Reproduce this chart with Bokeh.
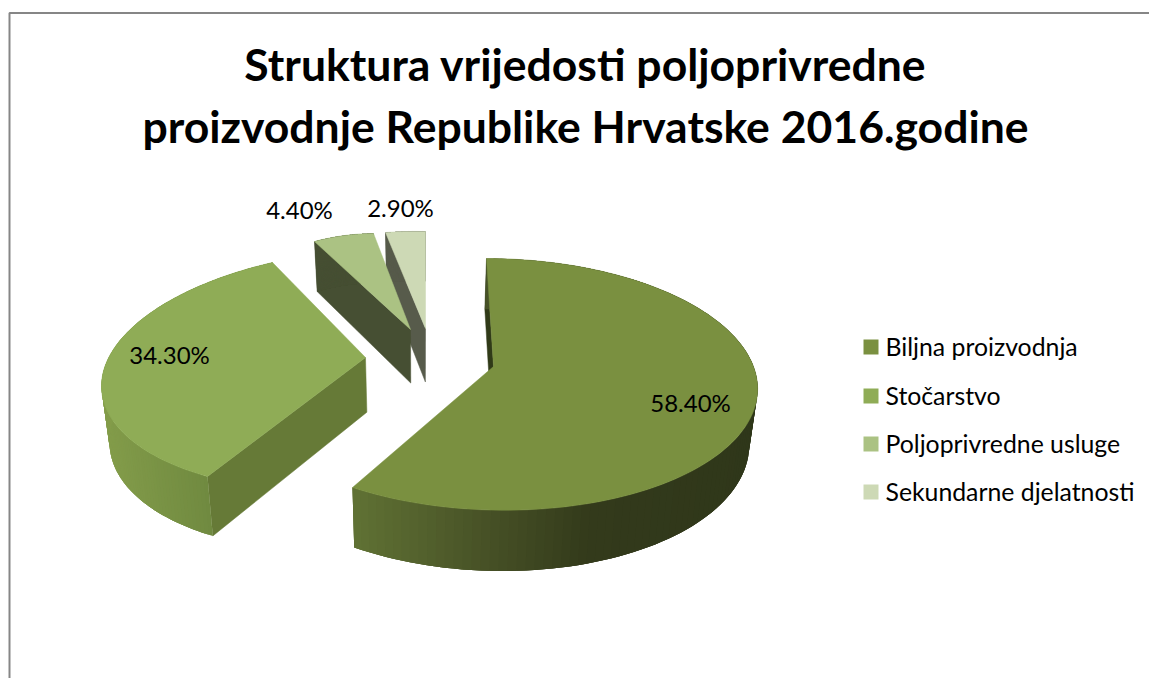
import numpy as np
from bokeh.plotting import figure
from bokeh.embed import file_html
from bokeh.resources import INLINE
from bokeh.core.properties import value

# ---------- data ----------
title_lines = ["Struktura vrijedosti poljoprivredne",
               "proizvodnje Republike Hrvatske 2016.godine"]
categories = ["Biljna proizvodnja", "Stočarstvo", "Poljoprivredne usluge", "Sekundarne djelatnosti"]
shares = [58.4, 34.3, 4.4, 2.9]

# ---------- style / layout ----------
FONT = "Lato"
W, H = 1149, 678
X0, Y0 = 0, 0                     # canvas coordinates equal window pixels
face_cols = ["#7a9040", "#8fac56", "#abc283", "#cdd9b5"]
swatch_cols = ["#7a9040", "#8fac56", "#abc283", "#cdd9b5"]
side_cols = ["#303a18", "#667a37", "#464f33", "#575b4b"]
# rim colour stops (screen x, rgb)
rim_stops = [
    [(352, (96, 114, 52)), (470, (74, 85, 40)), (590, (51, 58, 27)), (760, (47, 55, 26))],
    [(102, (131, 156, 74)), (207, (112, 138, 64))],
    [(0, (70, 79, 51)), (2000, (70, 79, 51))],
    [(0, (87, 91, 75)), (2000, (87, 91, 75))],
]
# perspective frames: apex, then rim anchor points (fraction of slice sweep -> screen point)
frames = [
    dict(apex=(493, 366), first=(486, 258), last=(352, 487), mid=(0.50, (756, 400))),
    dict(apex=(365, 357), first=(207, 476), last=(272, 262), mid=(0.45, (102, 375))),
    dict(apex=(410, 329), first=(314, 241), last=(373, 233), mid=(0.50, (344, 235))),
    dict(apex=(425, 328), first=(385, 232), last=(425, 231), mid=(0.50, (405, 231))),
]
label_pos = [(690, 402), (169, 354), (299, 209), (400, 207)]
LABEL_PX, LEGEND_PX, TITLE_PX = "24px", "24.8px", "44.5px"
legend_y = [345.5, 394.5, 442.5, 490.5]

def homography(src, dst):
    A, b = [], []
    for (u, v), (x, y) in zip(src, dst):
        A.append([u, v, 1, 0, 0, 0, -u * x, -v * x]); b.append(x)
        A.append([0, 0, 0, u, v, 1, -u * y, -v * y]); b.append(y)
    h = np.linalg.solve(np.array(A, float), np.array(b, float))
    return np.append(h, 1).reshape(3, 3)

def disk(theta):
    t = np.radians(theta)
    return np.sin(t), -np.cos(t)

def project(H_, theta):
    u, v = disk(np.asarray(theta, float))
    w = H_[2, 0] * u + H_[2, 1] * v + 1
    return (H_[0, 0] * u + H_[0, 1] * v + H_[0, 2]) / w, (H_[1, 0] * u + H_[1, 1] * v + H_[1, 2]) / w

def lower(x, y):
    """Matching point on the bottom plane of the pie."""
    x, y = np.asarray(x, float), np.asarray(y, float)
    return x + (420 - x) * 0.025, y + 54 + (y - 340) * 0.04

p = figure(width=W, height=H, x_range=(X0, X0 + W), y_range=(Y0 + H, Y0),
           output_backend="svg", toolbar_location=None, min_border=0,
           outline_line_color=None, background_fill_color="white", border_fill_color="white")
p.xaxis.visible = False; p.yaxis.visible = False; p.grid.visible = False

# chart frame (only top and left are in view)
p.line([9, 9, X0 + W], [Y0 + H, 12.5, 12.5], line_color="#868686", line_width=2)

# slices
total = sum(shares)
edges = np.cumsum([0] + shares) / total * 360
for i in [3, 2, 1, 0]:
    t0, t1 = edges[i], edges[i + 1]
    f = frames[i]
    tm = t0 + (t1 - t0) * f["mid"][0]
    H_ = homography([(0, 0), disk(t0), disk(t1), disk(tm)],
                    [f["apex"], f["first"], f["last"], f["mid"][1]])
    th = np.linspace(t0, t1, 121)
    xs, ys = project(H_, th)
    bx, by = lower(xs, ys)
    ax, ay = f["apex"]
    abx, aby = lower(ax, ay)
    # start-side wall
    p.patch([ax, xs[0], bx[0], abx], [ay, ys[0], by[0], aby],
            fill_color=side_cols[i], line_color=side_cols[i], line_width=0.5)
    # rim as shaded strips, each overlapping the next one so no seam shows
    stops = rim_stops[i]
    sx = [s[0] for s in stops]
    for k in range(len(th) - 1):
        e = min(k + 3, len(th) - 1)
        mx = (xs[k] + xs[k + 1]) / 2
        rgb = [int(round(np.interp(mx, sx, [s[1][c] for s in stops]))) for c in range(3)]
        col = "#%02x%02x%02x" % tuple(rgb)
        idx = list(range(k, e + 1))
        p.patch(list(xs[idx]) + list(bx[idx][::-1]), list(ys[idx]) + list(by[idx][::-1]),
                fill_color=col, line_color=None)
    # top face
    p.patch([ax] + list(xs), [ay] + list(ys), fill_color=face_cols[i], line_color=face_cols[i], line_width=0.5)

# value labels
p.text([q[0] for q in label_pos], [q[1] for q in label_pos], text=[f"{v:.2f}%" for v in shares],
       text_font=value(FONT), text_font_size=LABEL_PX, text_color="#000000",
       text_align="center", text_baseline="middle")

# legend
p.rect([870.5] * 4, [346.5, 395.5, 443.5, 491.5], width=15, height=15, fill_color=swatch_cols, line_color=None)
p.text([885] * 4, legend_y, text=categories, text_font=value(FONT), text_font_size=LEGEND_PX,
       text_color="#000000", text_align="left", text_baseline="middle")

# title
p.text([585, 585], [63, 125], text=title_lines, text_font=value(FONT), text_font_size=TITLE_PX,
       text_font_style="bold", text_color="#000000", text_align="center", text_baseline="middle")

open("out.html", "w").write(file_html(p, INLINE))
